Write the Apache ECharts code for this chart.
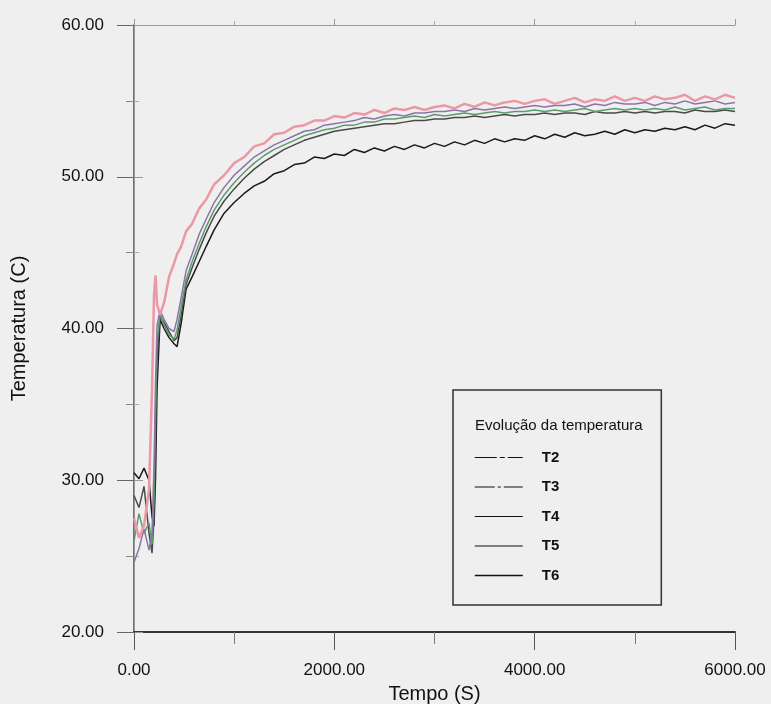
<!DOCTYPE html>
<html>
<head>
<meta charset="utf-8">
<script src="https://cdn.jsdelivr.net/npm/echarts@6/dist/echarts.min.js"></script>
<style>
html,body{margin:0;padding:0;background:#efefef;}
#c{width:771px;height:704px;}
</style>
</head>
<body>
<div id="c"></div>
<script>
// time in seconds
const tempo = [0,50,100,150,180,200,215,230,260,300,350,400,430,470,520,580,650,720,800,900,1000,
  1100,1200,1300,1400,1500,1600,1700,1800,1900,2000,
  2100,2200,2300,2400,2500,2600,2700,2800,2900,3000,
  3100,3200,3300,3400,3500,3600,3700,3800,3900,4000,
  4100,4200,4300,4400,4500,4600,4700,4800,4900,5000,
  5100,5200,5300,5400,5500,5600,5700,5800,5900,6000];

const T2 = [27.5,26.2,27.0,29.4,36.0,42.2,43.5,41.6,40.9,41.7,43.4,44.3,44.9,45.4,46.4,46.9,47.9,48.5,49.5,50.1,50.9,
  51.3,52.0,52.2,52.8,52.9,53.3,53.4,53.7,53.7,54.0,
  53.9,54.2,54.1,54.4,54.2,54.5,54.4,54.6,54.4,54.6,
  54.7,54.5,54.8,54.6,54.9,54.7,54.9,55.0,54.8,55.0,
  55.1,54.8,55.0,55.2,54.9,55.1,55.0,55.3,55.0,55.2,
  55.0,55.3,55.1,55.2,55.4,55.0,55.3,55.1,55.4,55.2];
const T3 = [24.6,25.5,26.8,25.4,26.5,31.0,36.5,40.2,41.2,40.6,40.0,39.8,40.6,42.0,43.8,44.9,46.2,47.2,48.3,49.3,50.1,
  50.7,51.3,51.7,52.1,52.4,52.7,53.0,53.1,53.4,53.5,
  53.6,53.7,53.9,53.8,54.0,54.1,54.0,54.2,54.2,54.3,
  54.3,54.4,54.3,54.5,54.4,54.5,54.6,54.5,54.6,54.7,
  54.6,54.7,54.7,54.8,54.6,54.8,54.7,54.9,54.8,54.8,
  54.9,54.7,54.9,54.8,55.0,54.8,54.9,55.0,54.8,54.9];
const T4 = [26.0,27.8,26.5,27.2,25.8,29.0,34.5,39.0,41.0,40.2,39.6,39.3,39.9,41.4,43.2,44.4,45.6,46.7,47.8,48.8,49.6,
  50.3,50.9,51.4,51.8,52.1,52.4,52.7,52.9,53.1,53.2,
  53.4,53.4,53.6,53.6,53.8,53.8,53.9,54.0,53.9,54.1,
  54.0,54.1,54.2,54.1,54.2,54.3,54.2,54.3,54.3,54.4,
  54.3,54.4,54.3,54.4,54.5,54.3,54.4,54.5,54.4,54.5,
  54.4,54.5,54.4,54.6,54.4,54.5,54.6,54.4,54.5,54.5];
const T5 = [29.0,28.2,29.6,26.5,25.2,27.5,33.0,38.0,40.8,40.4,39.8,39.2,39.4,40.8,42.9,44.0,45.2,46.3,47.4,48.4,49.2,
  49.9,50.5,51.0,51.4,51.8,52.1,52.4,52.6,52.8,53.0,
  53.1,53.2,53.3,53.4,53.5,53.5,53.6,53.7,53.7,53.8,
  53.8,53.9,53.9,54.0,53.9,54.0,54.1,54.0,54.1,54.1,
  54.2,54.1,54.2,54.2,54.1,54.3,54.2,54.2,54.3,54.2,
  54.3,54.2,54.3,54.3,54.2,54.4,54.3,54.3,54.4,54.3];
const T6 = [30.5,30.1,30.8,30.0,27.6,27.0,30.2,36.0,40.6,40.0,39.4,39.0,38.8,40.3,42.6,43.4,44.4,45.4,46.5,47.6,48.3,
  48.9,49.4,49.7,50.2,50.4,50.8,50.9,51.3,51.2,51.5,
  51.4,51.8,51.6,51.9,51.7,52.0,51.8,52.1,51.9,52.2,
  52.0,52.3,52.1,52.4,52.2,52.5,52.3,52.5,52.4,52.7,
  52.5,52.8,52.6,52.9,52.7,52.8,53.0,52.8,53.1,52.9,
  53.1,53.0,53.2,53.1,53.3,53.1,53.4,53.2,53.5,53.4];

const seriesNames = ['T2','T3','T4','T5','T6'];
const seriesValues = [T2,T3,T4,T5,T6];
const seriesColors = ['#eb98a4','#8a74a8','#5c9c6c','#4a4a4a','#1a1a1a'];
const legendTypes = [[22,3,5,3],[20,3,3,3],'solid','solid','solid'];
const legendTitle = 'Evolução da temperatura';

const font = 'Liberation Sans, Arial, sans-serif';
const chart = echarts.init(document.getElementById('c'));

chart.setOption({
  backgroundColor: '#efefef',
  animation: false,
  title: {
    text: legendTitle,
    left: 470, top: 413,
    textStyle: {fontFamily: font, fontSize: 15, fontWeight: 'normal', color: '#111'}
  },
  grid: {left: 134, right: 36, top: 25, bottom: 72, outerBoundsMode: 'none', containLabel: false},
  legend: {
    orient: 'vertical',
    left: 453, top: 390,
    padding: [60, 102, 22, 21],
    itemWidth: 48, itemHeight: 14, itemGap: 14.5,
    borderColor: '#333', borderWidth: 1.5,
    itemStyle: {color: 'transparent', borderColor: 'transparent', borderWidth: 0},
    textStyle: {fontFamily: font, fontSize: 15, fontWeight: 'bold', color: '#111', lineHeight: 14, padding: [0,0,0,14]},
    data: seriesNames.map((n,i) => ({name: n,
      itemStyle: {color: 'transparent', borderColor: 'transparent', borderWidth: 0},
      lineStyle: {color: '#111', width: i===4?1.6:1.1, type: legendTypes[i]}}))
  },
  xAxis: [{
    type: 'value', min: 0, max: 6000, interval: 2000,
    name: 'Tempo (S)', nameLocation: 'middle', nameGap: 52,
    nameTextStyle: {fontFamily: font, fontSize: 20, color: '#111'},
    axisLine: {lineStyle: {color: '#333', width: 2}},
    axisTick: {length: 18, lineStyle: {color: '#555', width: 1}},
    minorTick: {show: true, splitNumber: 2, length: 12, lineStyle: {color: '#777'}},
    splitLine: {show: false},
    axisLabel: {margin: 30, fontFamily: font, fontSize: 17, color: '#111', formatter: v => v.toFixed(2)}
  },{
    type: 'value', position: 'top', min: 0, max: 6000, interval: 2000,
    axisLine: {lineStyle: {color: '#999', width: 1}},
    axisTick: {length: 6, lineStyle: {color: '#999'}},
    minorTick: {show: true, splitNumber: 2, length: 4, lineStyle: {color: '#aaa'}},
    splitLine: {show: false}, axisLabel: {show: false}
  }],
  yAxis: [{
    type: 'value', min: 20, max: 60, interval: 10,
    name: 'Temperatura (C)', nameLocation: 'middle', nameGap: 105, nameRotate: 90,
    nameTextStyle: {fontFamily: font, fontSize: 20, color: '#111'},
    axisLine: {show: true, lineStyle: {color: '#444', width: 1.5}},
    axisTick: {show: true, length: 17, lineStyle: {color: '#666'}},
    minorTick: {show: true, splitNumber: 2, length: 8, lineStyle: {color: '#888'}},
    splitLine: {show: false},
    axisLabel: {margin: 30, fontFamily: font, fontSize: 17, color: '#111', formatter: v => v.toFixed(2)}
  },{
    type: 'value', position: 'right', min: 20, max: 60, interval: 10,
    axisLine: {show: true, lineStyle: {color: '#999', width: 1}},
    axisTick: {show: true, length: 9, lineStyle: {color: '#999'}},
    minorTick: {show: true, splitNumber: 2, length: 5, lineStyle: {color: '#aaa'}},
    splitLine: {show: false}, axisLabel: {show: false}
  }],
  series: seriesNames.map((n,i) => ({
    name: n, type: 'line', symbol: 'none', showSymbol: false,
    lineStyle: {color: seriesColors[i], width: i===0 ? 2.5 : 1.5},
    itemStyle: {color: seriesColors[i]},
    z: 10 - i,
    data: tempo.map((t,k) => [t, seriesValues[i][k]])
  }))
});
</script>
</body>
</html>
